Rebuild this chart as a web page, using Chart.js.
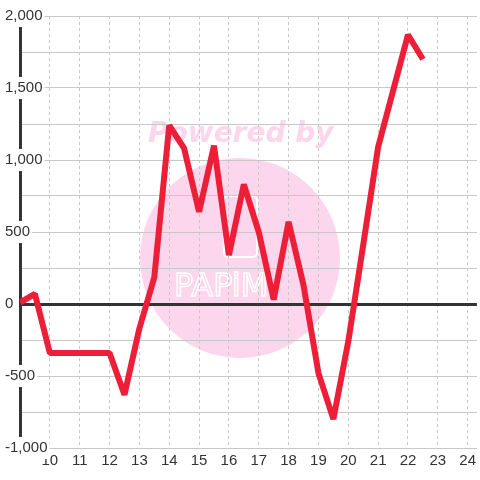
<!DOCTYPE html>
<html>
<head>
<meta charset="utf-8">
<script src="https://cdn.jsdelivr.net/npm/chart.js@4"></script>
<style>
  body { margin: 0; background: #fff; }
  canvas { display: block; }
</style>
</head>
<body>
<canvas id="chart" width="480" height="480"></canvas>
<script>
// values
const xValues = [9, 9.5, 10, 10.5, 11, 11.5, 12, 12.5, 13, 13.5, 14, 14.5, 15, 15.5, 16, 16.5,
                 17, 17.5, 18, 18.5, 19, 19.5, 20, 20.5, 21, 21.5, 22, 22.5];
const yValues = [10, 70, -340, -340, -340, -340, -340, -630, -170, 185, 1240, 1080, 640, 1100, 340, 830,
                 500, 30, 570, 130, -480, -800, -260, 410, 1090, 1480, 1870, 1700];
const xTicks = [10, 11, 12, 13, 14, 15, 16, 17, 18, 19, 20, 21, 22, 23, 24];
const yTicks = [-1000, -500, 0, 500, 1000, 1500, 2000];

const points = xValues.map((x, i) => ({ x: x, y: yValues[i] }));

// faint pink watermark behind the grid
const watermark = {
    id: 'watermark',
    beforeDraw(chart) {
        const ctx = chart.ctx;
        ctx.save();
        ctx.fillStyle = 'rgb(252, 214, 236)';
        ctx.beginPath();
        ctx.arc(240, 258, 100, 0, Math.PI * 2);
        ctx.fill();
        ctx.font = 'bold oblique 28px "DejaVu Sans"';
        ctx.textBaseline = 'middle';
        ctx.fillText('Powered by', 148, 135);
        ctx.strokeStyle = '#fff';
        ctx.lineWidth = 2;
        ctx.beginPath();
        ctx.roundRect(224, 196, 33, 61, 4);
        ctx.stroke();
        ctx.font = '32px "DejaVu Sans"';
        ctx.lineWidth = 1.5;
        ctx.strokeText('PAPiM', 174, 288);
        ctx.restore();
    }
};

new Chart(document.getElementById('chart'), {
    type: 'line',
    data: {
        datasets: [{
            data: points,
            borderColor: 'rgb(237, 30, 56)',
            borderWidth: 6,
            borderJoinStyle: 'bevel',
            pointRadius: 0,
            tension: 0,
            fill: false
        }]
    },
    options: {
        responsive: false,
        animation: false,
        layout: { padding: { top: 16, left: 0, right: 0, bottom: 0 } },
        plugins: {
            legend: { display: false },
            tooltip: { enabled: false }
        },
        scales: {
            x: {
                type: 'linear',
                min: 9,
                max: 24.31,
                afterFit: scale => { scale.height = 32; },
                afterBuildTicks: scale => { scale.ticks = xTicks.map(v => ({ value: v })); },
                ticks: {
                    padding: 4,
                    color: '#333',
                    font: { family: '"Liberation Sans", Arial', size: 15 },
                    maxRotation: 0,
                    autoSkip: false
                },
                grid: { color: '#c8c8c8', lineWidth: 1, drawTicks: false },
                border: { display: false, dash: [3, 3] }
            },
            y: {
                min: -1000,
                max: 2000,
                z: -1,   // drawn before the x axis so its label boxes stay under the x labels
                afterFit: scale => { scale.width = 20; },
                ticks: {
                    stepSize: 250,
                    mirror: true,
                    crossAlign: 'near',
                    padding: -15,
                    color: '#333',
                    font: { family: '"Liberation Sans", Arial', size: 15 },
                    showLabelBackdrop: true,
                    backdropPadding: 2,
                    backdropColor: c => yTicks.includes(c.tick.value) ? '#fff' : 'rgba(0,0,0,0)',
                    callback: v => yTicks.includes(v) ? v.toLocaleString('en-US') : ''
                },
                grid: {
                    drawTicks: false,
                    color: c => c.tick.value === 0 ? '#333' : '#c8c8c8',
                    lineWidth: c => c.tick.value === 0 ? 3 : 1
                },
                border: { display: true, color: '#333', width: 3 }
            }
        }
    },
    plugins: [watermark]
});
</script>
</body>
</html>
